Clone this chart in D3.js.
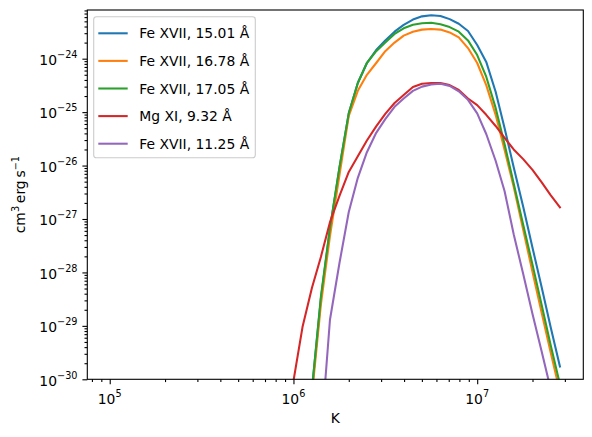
<!DOCTYPE html>
<html>
<head>
<meta charset="utf-8">
<script src="https://cdn.jsdelivr.net/npm/d3@7"></script>
<style>
  html, body { margin: 0; padding: 0; background: #fff; }
  svg text { font-family: "DejaVu Sans", sans-serif; fill: #000; }
</style>
</head>
<body>
<svg id="chart" width="592" height="437"></svg>
<script>
// temperature grid (K)
const temperature = [
  1.00e6, 1.12e6, 1.26e6, 1.41e6, 1.58e6, 1.78e6, 2.00e6, 2.24e6, 2.51e6, 2.82e6,
  3.16e6, 3.55e6, 3.98e6, 4.47e6, 5.01e6, 5.62e6, 6.31e6, 7.08e6, 7.94e6, 8.91e6,
  1.00e7, 1.12e7, 1.26e7, 1.41e7, 1.58e7, 1.78e7, 2.00e7, 2.24e7, 2.51e7, 2.82e7
]

const lineLabels = [
  'Fe XVII, 15.01 Å',
  'Fe XVII, 16.78 Å',
  'Fe XVII, 17.05 Å',
  'Mg XI, 9.32 Å',
  'Fe XVII, 11.25 Å'
]

// emissivity, cm^3 erg s^-1
const fe15_01 = [
  1.0e-34, 1.0e-32, 6.3e-31, 3.2e-29, 6.5e-28, 9.0e-27, 9.5e-26, 3.5e-25, 8.3e-25, 1.45e-24,
  2.2e-24, 3.2e-24, 4.3e-24, 5.4e-24, 6.2e-24, 6.5e-24, 6.3e-24, 5.5e-24, 4.5e-24, 3.3e-24,
  1.8e-24, 8.7e-25, 2.4e-25, 5.0e-26, 9.3e-27, 1.7e-27, 2.9e-28, 5.4e-29, 9.5e-30, 1.74e-30
]
const fe16_78 = [
  1.0e-34, 1.0e-32, 5.0e-31, 2.5e-29, 4.8e-28, 6.6e-27, 8.5e-26, 2.5e-25, 5.0e-25, 8.3e-25,
  1.38e-24, 2.0e-24, 2.7e-24, 3.2e-24, 3.5e-24, 3.6e-24, 3.5e-24, 3.1e-24, 2.5e-24, 1.58e-24,
  8.3e-25, 3.2e-25, 8.9e-26, 1.95e-26, 4.0e-27, 6.3e-28, 1.02e-28, 1.8e-29, 3.2e-30, 5.8e-31
]
const fe17_05 = [
  1.0e-34, 1.0e-32, 6.3e-31, 3.5e-29, 6.8e-28, 9.3e-27, 9.5e-26, 3.5e-25, 8.3e-25, 1.38e-24,
  2.0e-24, 2.9e-24, 3.7e-24, 4.3e-24, 4.6e-24, 4.7e-24, 4.4e-24, 3.9e-24, 3.2e-24, 2.2e-24,
  1.17e-24, 4.6e-25, 1.2e-25, 2.5e-26, 4.6e-27, 7.8e-28, 1.4e-28, 2.5e-29, 4.4e-30, 8.1e-31
]
const mg9_32 = [
  9.3e-31, 9.5e-30, 5.1e-29, 1.95e-28, 8.7e-28, 2.7e-27, 7.6e-27, 1.5e-26, 2.95e-26, 5.4e-26,
  9.3e-26, 1.48e-25, 2.1e-25, 2.95e-25, 3.4e-25, 3.5e-25, 3.5e-25, 3.2e-25, 2.6e-25, 1.8e-25,
  1.35e-25, 8.9e-26, 5.5e-26, 3.3e-26, 2.0e-26, 1.32e-26, 8.3e-27, 4.9e-27, 2.8e-27, 1.66e-27
]
const fe11_25 = [
  1.0e-37, 1.0e-35, 6.3e-34, 7.9e-32, 1.3e-29, 1.5e-28, 1.35e-27, 5.9e-27, 1.78e-26, 4.1e-26,
  7.4e-26, 1.26e-25, 1.8e-25, 2.5e-25, 3.0e-25, 3.3e-25, 3.4e-25, 3.1e-25, 2.45e-25, 1.7e-25,
  9.5e-26, 3.9e-26, 1.23e-26, 3.3e-27, 5.2e-28, 9.3e-29, 1.66e-29, 3.4e-30, 6.6e-31, 1.3e-31
]

const xLimits = [7.55e4, 3.78e7]
const yLimits = [1e-30, 8.15e-24]
const xMajor = [1e5, 1e6, 1e7]
const yMajor = [1e-30, 1e-29, 1e-28, 1e-27, 1e-26, 1e-25, 1e-24]

;(function() {
  const
    left = 87.3,
    right = 583.3,
    top = 10,
    bottom = 379.3,
    colors = ['#1f77b4', '#ff7f0e', '#2ca02c', '#d62728', '#9467bd'],
    series = [fe15_01, fe16_78, fe17_05, mg9_32, fe11_25]

  const svg = d3.select('#chart')

  const x = d3.scaleLog().domain(xLimits).range([left, right])
  const y = d3.scaleLog().domain(yLimits).range([bottom, top])

  // minor ticks: 2..9 of every decade inside the limits
  function minors(lim) {
    const out = []
    const lo = Math.floor(Math.log10(lim[0])), hi = Math.ceil(Math.log10(lim[1]))
    for (let e = lo; e <= hi; e++) {
      for (let m = 2; m <= 9; m++) {
        const v = m * Math.pow(10, e)
        if (v >= lim[0] && v <= lim[1]) out.push(v)
      }
    }
    return out
  }

  svg.append('defs').append('clipPath').attr('id', 'plot-clip')
    .append('rect')
    .attr('x', left).attr('y', top)
    .attr('width', right - left).attr('height', bottom - top)

  const line = d3.line()
    .x(function(d) { return x(d[0]) })
    .y(function(d) { return y(d[1]) })

  svg.append('g')
    .attr('clip-path', 'url(#plot-clip)')
    .selectAll('path')
    .data(series)
    .enter()
    .append('path')
    .attr('d', function(s) { return line(temperature.map(function(t, i) { return [t, s[i]] })) })
    .attr('fill', 'none')
    .attr('stroke', function(d, i) { return colors[i] })
    .attr('stroke-width', 2.08)
    .attr('stroke-linejoin', 'round')
    .attr('stroke-linecap', 'square')

  // axes
  const axisStyle = function(g) {
    g.select('.domain').remove()
    g.selectAll('line').attr('stroke', '#000').attr('stroke-width', 1.1)
  }

  svg.append('g')
    .attr('transform', 'translate(0,' + bottom + ')')
    .call(d3.axisBottom(x).tickValues(minors(xLimits)).tickSize(2.8).tickFormat(''))
    .call(axisStyle)
  svg.append('g')
    .attr('transform', 'translate(0,' + bottom + ')')
    .call(d3.axisBottom(x).tickValues(xMajor).tickSize(4.9).tickFormat(''))
    .call(axisStyle)
  svg.append('g')
    .attr('transform', 'translate(' + left + ',0)')
    .call(d3.axisLeft(y).tickValues(minors(yLimits)).tickSize(2.8).tickFormat(''))
    .call(axisStyle)
  svg.append('g')
    .attr('transform', 'translate(' + left + ',0)')
    .call(d3.axisLeft(y).tickValues(yMajor).tickSize(4.9).tickFormat(''))
    .call(axisStyle)

  function powLabel(sel, exp) {
    sel.append('tspan').text('10')
    sel.append('tspan')
      .attr('dy', -7)
      .attr('font-size', 9.7)
      .text(String(exp).replace('-', '\u2212'))
  }

  svg.append('g').selectAll('text')
    .data(xMajor)
    .enter()
    .append('text')
    .attr('x', function(d) { return x(d) })
    .attr('y', 404)
    .attr('text-anchor', 'middle')
    .attr('font-size', 13.9)
    .each(function(d) { powLabel(d3.select(this), Math.round(Math.log10(d))) })

  svg.append('g').selectAll('text')
    .data(yMajor)
    .enter()
    .append('text')
    .attr('x', 77.5)
    .attr('y', function(d) { return y(d) + 6.3 })
    .attr('text-anchor', 'end')
    .attr('font-size', 13.9)
    .each(function(d) { powLabel(d3.select(this), Math.round(Math.log10(d))) })

  // frame
  svg.append('rect')
    .attr('x', left).attr('y', top)
    .attr('width', right - left).attr('height', bottom - top)
    .attr('fill', 'none')
    .attr('stroke', '#000')
    .attr('stroke-width', 1.1)

  svg.append('text')
    .attr('x', (left + right) / 2)
    .attr('y', 423)
    .attr('text-anchor', 'middle')
    .attr('font-size', 13.9)
    .text('K')

  const ylab = svg.append('text')
    .attr('transform', 'translate(25,' + ((top + bottom) / 2) + ') rotate(-90)')
    .attr('text-anchor', 'middle')
    .attr('font-size', 13.9)
  ylab.append('tspan').text('cm')
  ylab.append('tspan').attr('dy', -6).attr('font-size', 9.7).text('3')
  ylab.append('tspan').attr('dy', 6).text('\u2009erg\u2009s')
  ylab.append('tspan').attr('dy', -6).attr('font-size', 9.7).text('\u22121')

  // legend
  const legend = svg.append('g')
  legend.append('rect')
    .attr('x', 93.7).attr('y', 16.7)
    .attr('width', 161.6).attr('height', 141)
    .attr('rx', 2.8)
    .attr('fill', 'rgba(255,255,255,0.8)')
    .attr('stroke', '#cccccc')
    .attr('stroke-width', 1.1)

  const rows = legend.selectAll('g.row')
    .data(lineLabels)
    .enter()
    .append('g')
    .attr('class', 'row')
    .attr('transform', function(d, i) { return 'translate(0,' + (33.3 + i * 27.6) + ')' })

  rows.append('line')
    .attr('x1', 98.3).attr('x2', 127.7)
    .attr('stroke', function(d, i) { return colors[i] })
    .attr('stroke-width', 2.08)

  rows.append('text')
    .attr('x', 139.3)
    .attr('y', 5)
    .attr('font-size', 13.9)
    .text(function(d) { return d })
})();
</script>
</body>
</html>
